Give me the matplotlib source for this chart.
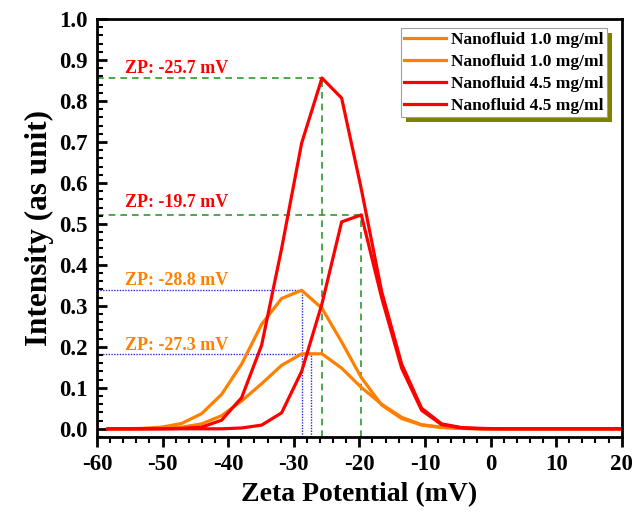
import matplotlib
matplotlib.use("Agg")
import matplotlib.pyplot as plt
from matplotlib.patches import Rectangle
from matplotlib.ticker import MultipleLocator
from matplotlib.transforms import IdentityTransform

plt.rcParams["axes.unicode_minus"] = False

# Zeta potential bins (mV)
zeta = [-58.3, -56.25, -53.2, -50.15, -47.1, -44.05, -41.0, -37.95, -34.9,
        -31.85, -28.8, -25.7, -22.7, -19.7, -16.6, -13.55, -10.5, -7.45,
        -4.4, -1.35, 1.7, 4.75, 7.8, 10.85, 13.9, 16.95, 19.7]

# Intensity distributions
nf10_a = [0, 0, 0.001, 0.004, 0.013, 0.037, 0.084, 0.158, 0.255,
          0.318, 0.338, 0.294, 0.212, 0.125, 0.058, 0.025, 0.009, 0.003,
          0.001, 0, 0, 0, 0, 0, 0, 0, 0]
nf10_b = [0, 0, 0, 0.001, 0.004, 0.012, 0.032, 0.068, 0.110,
          0.155, 0.183, 0.183, 0.148, 0.101, 0.060, 0.028, 0.010, 0.004,
          0.001, 0, 0, 0, 0, 0, 0, 0, 0]
nf45_a = [0, 0, 0, 0, 0.001, 0.004, 0.021, 0.076, 0.204,
          0.440, 0.697, 0.856, 0.807, 0.585, 0.335, 0.158, 0.050, 0.012,
          0.003, 0.001, 0, 0, 0, 0, 0, 0, 0]
nf45_b = [0, 0, 0, 0, 0, 0, 0, 0.002, 0.009,
          0.039, 0.140, 0.305, 0.505, 0.522, 0.320, 0.148, 0.045, 0.010,
          0.002, 0, 0, 0, 0, 0, 0, 0, 0]

series_labels = ["Nanofluid 1.0 mg/ml", "Nanofluid 1.0 mg/ml",
                 "Nanofluid 4.5 mg/ml", "Nanofluid 4.5 mg/ml"]

# Peak zeta potentials and their intensities
zp_values = [-25.7, -19.7, -28.8, -27.3]
zp_peaks = [0.856, 0.522, 0.338, 0.183]
zp_label_y = [0.880, 0.553, 0.363, 0.204]

ORANGE = "#FF8000"
RED = "#FF0000"
GREEN = "#2E9B2E"
BLUE = "#2A2AC8"

serif = "Liberation Serif"

fig = plt.figure(figsize=(6.33, 5.20), dpi=100)
ax = fig.add_axes([97 / 633, 1 - 437 / 520, (621.7 - 97) / 633, (437 - 19) / 520])

ax.set_xlim(-60, 20)
ax.set_ylim(-0.02, 1.0)

# guide lines to each peak
guide_styles = [(GREEN, (0, (4, 3)), 1.2), (GREEN, (0, (4, 3)), 1.2),
                (BLUE, (0, (1, 1)), 1.0), (BLUE, (0, (1, 1)), 1.0)]
guide_colors = [RED, RED, ORANGE, ORANGE]
for zp, pk, ly, (gc, ls, lw), tc in zip(zp_values, zp_peaks, zp_label_y,
                                         guide_styles, guide_colors):
    ax.plot([-60, zp], [pk, pk], color=gc, ls=ls, lw=lw, zorder=1.5)
    ax.plot([zp, zp], [-0.02, pk], color=gc, ls=ls, lw=lw, zorder=1.5)
    ax.text(-55.7, ly, f"ZP: {zp} mV", color=tc, fontsize=13,
            fontweight="bold", family=serif, va="center", ha="left")

ax.plot(zeta, nf10_a, color=ORANGE, lw=2.3, label=series_labels[0], zorder=2)
ax.plot(zeta, nf10_b, color=ORANGE, lw=2.3, label=series_labels[1], zorder=2)
ax.plot(zeta, nf45_a, color=RED, lw=2.3, label=series_labels[2], zorder=2.1)
ax.plot(zeta, nf45_b, color=RED, lw=2.3, label=series_labels[3], zorder=2.1)

# axes styling
for s in ax.spines.values():
    s.set_linewidth(2.0)
ax.xaxis.set_major_locator(MultipleLocator(10))
ax.xaxis.set_minor_locator(MultipleLocator(2))
ax.yaxis.set_major_locator(MultipleLocator(0.1))
ax.yaxis.set_minor_locator(MultipleLocator(0.02))
ax.tick_params(axis="x", which="major", direction="out", length=7, width=2, pad=5)
ax.tick_params(axis="x", which="minor", direction="out", length=4, width=1.5)
ax.tick_params(axis="y", which="major", direction="in", length=7, width=2, pad=7)
ax.tick_params(axis="y", which="minor", direction="in", length=4.5, width=1.5)
ax.set_yticks([i / 10 for i in range(11)])
ax.set_yticklabels([f"{i / 10:.1f}" for i in range(11)])
for lab in ax.get_xticklabels() + ax.get_yticklabels():
    lab.set_fontfamily(serif)
    lab.set_fontweight("bold")
    lab.set_fontsize(16.5)

ax.set_xlabel("Zeta Potential (mV)", fontsize=20, fontweight="bold",
              family=serif, labelpad=5)
ax.set_ylabel("Intensity (as unit)", fontsize=22.5, fontweight="bold",
              family=serif, labelpad=3)

leg = ax.legend(loc="upper right", bbox_to_anchor=(0.972, 0.978),
                borderaxespad=0, fancybox=False, frameon=True,
                edgecolor="#A0A0A0", framealpha=1,
                prop={"family": serif, "weight": "bold", "size": 12.5},
                handlelength=2.4, handletextpad=0.3, labelspacing=0.34,
                borderpad=0.2)
leg.get_frame().set_linewidth(0.8)
leg.set_zorder(6)

# drop shadow behind the legend box
fig.canvas.draw()
bb = leg.get_frame().get_window_extent()
shadow = Rectangle((bb.x0 + 5, bb.y0 - 5), bb.width, bb.height,
                   transform=IdentityTransform(), facecolor="#808000",
                   edgecolor="none", zorder=5.9, clip_on=False)
ax.add_artist(shadow)

fig.savefig("out.png", dpi=100)
